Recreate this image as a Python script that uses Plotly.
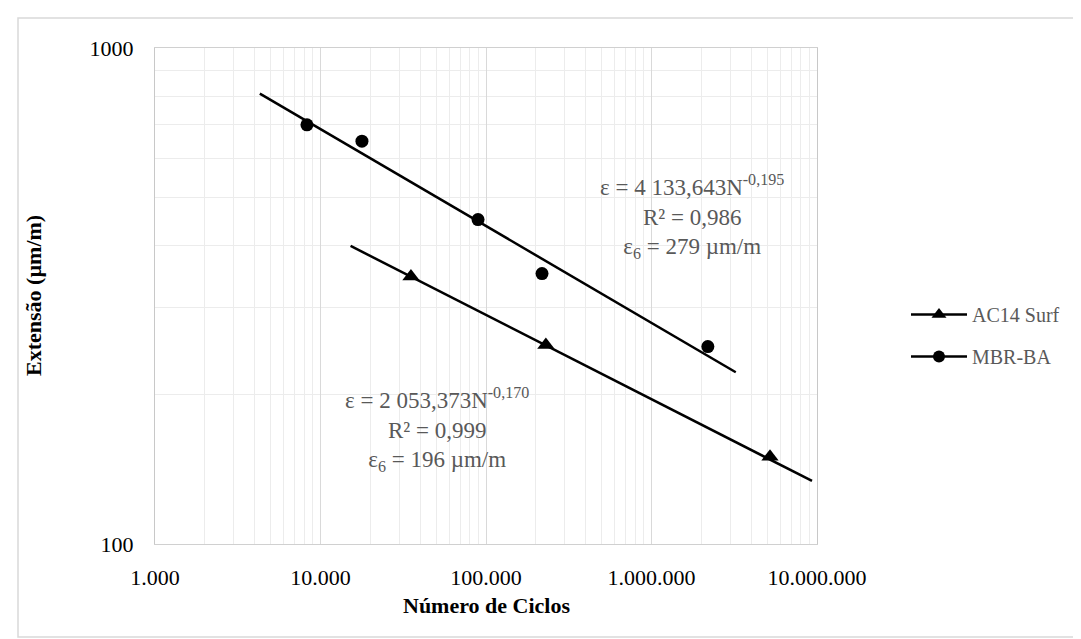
import plotly.graph_objects as go

# ---- data ----
mbr_N = [8280, 17800, 89500, 218000, 2190000]
mbr_eps = [700, 649, 451, 351, 250]
ac14_N = [35200, 230000, 5200000]
ac14_eps = [346, 252, 150]

# power trendlines (endpoints as drawn in the reference)
mbr_trend_N = [4300, 3230000]
mbr_trend_eps = [809, 222]
ac14_trend_N = [15200, 9330000]
ac14_trend_eps = [399, 134]

x_tickvals = [1000, 10000, 100000, 1000000, 10000000]
x_ticktext = ["1.000", "10.000", "100.000", "1.000.000", "10.000.000"]
y_tickvals = [100, 1000]
y_ticktext = ["100", "1000"]

minor_x = [m * 10 ** e for e in range(3, 7) for m in range(2, 10)]
minor_y = [m * 100 for m in range(2, 10)]

FONT = "Liberation Serif"
GRAY_TXT = "#595959"

fig = go.Figure()

# trendlines
fig.add_trace(go.Scatter(x=mbr_trend_N, y=mbr_trend_eps, mode="lines",
                         line=dict(color="black", width=2.5), showlegend=False,
                         hoverinfo="skip"))
fig.add_trace(go.Scatter(x=ac14_trend_N, y=ac14_trend_eps, mode="lines",
                         line=dict(color="black", width=2.5), showlegend=False,
                         hoverinfo="skip"))
# data points
fig.add_trace(go.Scatter(x=ac14_N, y=ac14_eps, mode="markers",
                         marker=dict(symbol="triangle-up", size=15, color="black"),
                         showlegend=False))
fig.add_trace(go.Scatter(x=mbr_N, y=mbr_eps, mode="markers",
                         marker=dict(symbol="circle", size=13, color="black"),
                         showlegend=False))
# legend entries
fig.add_trace(go.Scatter(x=[None], y=[None], mode="lines+markers", name="AC14 Surf",
                         legendgroup="a",
                         line=dict(color="black", width=2.5),
                         marker=dict(symbol="triangle-up", size=13, color="black")))
fig.add_trace(go.Scatter(x=[None], y=[None], mode="lines+markers", name="MBR-BA",
                         legendgroup="b",
                         line=dict(color="black", width=2.5),
                         marker=dict(symbol="circle", size=12, color="black")))

L, R, T, B = 147, 809, 40, 536
W, H = 1081, 639


def px(x):
    return (x - L) / (R - L)


def py(y):
    return (B - y) / (B - T)


fig.update_layout(
    width=W, height=H,
    margin=dict(l=L, r=W - R, t=T, b=H - B),
    paper_bgcolor="white", plot_bgcolor="white",
    font=dict(family=FONT, color="black", size=22),
    legend=dict(x=px(898), y=py(287), xanchor="left", yanchor="top",
                font=dict(family=FONT, size=20, color=GRAY_TXT),
                itemwidth=56, tracegroupgap=13, bgcolor="rgba(0,0,0,0)"),
    xaxis=dict(type="log", range=[3, 7], tickvals=x_tickvals, ticktext=x_ticktext,
               showgrid=True, gridcolor="#d9d9d9", gridwidth=1,
               minor=dict(tickvals=minor_x, showgrid=True, gridcolor="#ececec", gridwidth=1),
               showline=True, linecolor="#d0d0d0", linewidth=1, mirror=True,
               ticks="outside", ticklen=14, tickcolor="rgba(0,0,0,0)",
               tickfont=dict(family=FONT, size=22, color="black"), zeroline=False),
    yaxis=dict(type="log", range=[2, 3], tickvals=y_tickvals, ticktext=y_ticktext,
               showgrid=True, gridcolor="#d9d9d9", gridwidth=1,
               minor=dict(tickvals=minor_y, showgrid=True, gridcolor="#ececec", gridwidth=1),
               showline=True, linecolor="#c8c8c8", linewidth=1, mirror=True,
               ticks="outside", ticklen=16, tickcolor="rgba(0,0,0,0)",
               tickfont=dict(family=FONT, size=22, color="black"), zeroline=False),
)

# outer chart border
fig.add_shape(type="rect", xref="paper", yref="paper",
              x0=px(10), x1=px(1071), y0=py(629), y1=py(10),
              line=dict(color="#d9d9d9", width=1.5), layer="below")

# axis titles
fig.add_annotation(text="<b>Número de Ciclos</b>", xref="paper", yref="paper",
                   x=0.5, y=py(597), xanchor="center", yanchor="middle", showarrow=False,
                   font=dict(family=FONT, size=22, color="black"))
fig.add_annotation(text="<b>Extensão (µm/m)</b>", xref="paper", yref="paper",
                   x=px(25), y=0.5, xanchor="center", yanchor="middle",
                   showarrow=False, textangle=-90,
                   font=dict(family=FONT, size=22, color="black"))

# equation labels
fig.add_annotation(text="ε = 4 133,643N<sup>-0,195</sup><br>R² = 0,986<br>ε<sub>6</sub> = 279 µm/m",
                   xref="paper", yref="paper", x=px(684), y=py(208),
                   xanchor="center", yanchor="middle", showarrow=False,
                   align="center", font=dict(family=FONT, size=23, color=GRAY_TXT))
fig.add_annotation(text="ε = 2 053,373N<sup>-0,170</sup><br>R² = 0,999<br>ε<sub>6</sub> = 196 µm/m",
                   xref="paper", yref="paper", x=px(429), y=py(421),
                   xanchor="center", yanchor="middle", showarrow=False,
                   align="center", font=dict(family=FONT, size=23, color=GRAY_TXT))

fig.write_html("out.html")
